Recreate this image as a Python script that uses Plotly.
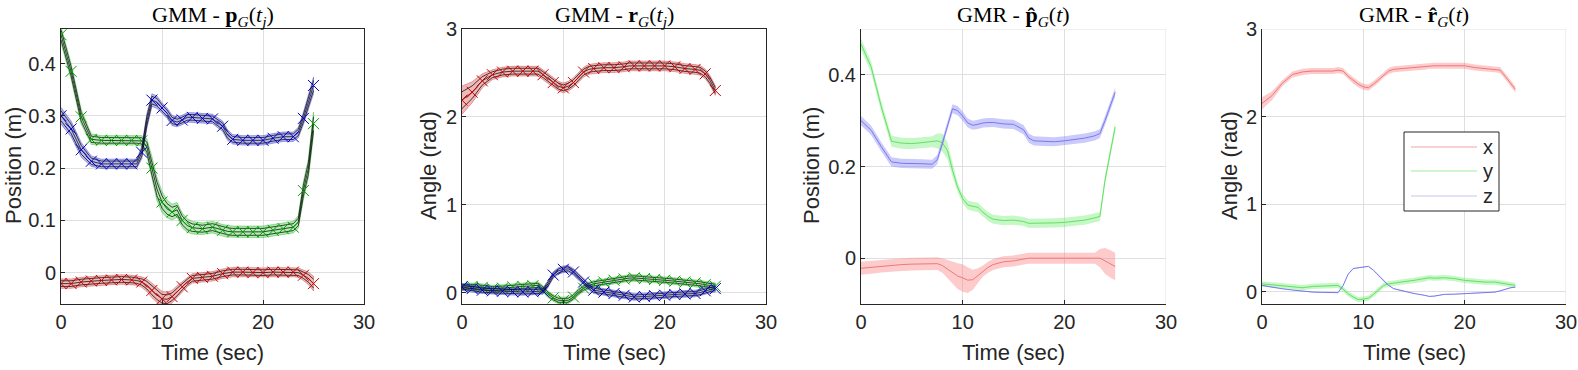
import plotly.graph_objects as go

# 공통 시간축 (sec)
t = [0, 1, 2, 3, 4, 5, 6, 7, 7.5, 8, 8.5, 9, 9.5, 10, 10.5, 11, 11.5, 12, 12.5, 13,
     14, 15, 16, 16.5, 17, 18, 19, 20, 21, 22, 23, 23.5, 24, 24.5, 25]

# GMM - 위치 (demo 평균, demo 퍼짐)
gmm_pos_x = [-0.021, -0.021, -0.018, -0.016, -0.015, -0.014, -0.013, -0.014, -0.015, -0.018, -0.024, -0.034,
             -0.043, -0.05, -0.051, -0.046, -0.037, -0.027, -0.018, -0.011, -0.009, -0.007, -0.002, -0.001,
             0.001, 0.001, 0.0, 0.0, 0.001, 0.001, 0.001, 0.0, -0.005, -0.011, -0.021]
gmm_pos_y = [0.455, 0.385, 0.298, 0.255, 0.253, 0.253, 0.253, 0.253, 0.253, 0.252, 0.24, 0.2, 0.16, 0.135,
             0.122, 0.116, 0.12, 0.1, 0.09, 0.086, 0.084, 0.087, 0.081, 0.079, 0.078, 0.078, 0.078, 0.078,
             0.081, 0.084, 0.087, 0.097, 0.157, 0.2, 0.285]
gmm_pos_z = [0.3, 0.275, 0.235, 0.213, 0.208, 0.208, 0.208, 0.208, 0.208, 0.23, 0.29, 0.33, 0.326, 0.315,
             0.305, 0.291, 0.288, 0.292, 0.297, 0.297, 0.295, 0.294, 0.28, 0.263, 0.255, 0.253, 0.253, 0.253,
             0.257, 0.26, 0.26, 0.268, 0.295, 0.325, 0.358]
gmm_pos_sx = [0.009] * 9 + [0.01, 0.012, 0.014, 0.014, 0.014, 0.014, 0.012, 0.012, 0.01] + [0.009] * 14 + [0.01, 0.012, 0.014]
gmm_pos_sy = [0.016, 0.015, 0.014, 0.01, 0.009, 0.009, 0.009, 0.009, 0.009, 0.01, 0.016, 0.022, 0.022, 0.02,
              0.017, 0.015, 0.014, 0.014, 0.013, 0.012, 0.011, 0.011, 0.011, 0.011, 0.011, 0.011, 0.011, 0.011,
              0.011, 0.011, 0.011, 0.012, 0.017, 0.018, 0.022]
gmm_pos_sz = [0.016, 0.015, 0.014, 0.01, 0.009, 0.009, 0.009, 0.009, 0.009, 0.012, 0.014, 0.012, 0.012, 0.01,
              0.01, 0.01, 0.009, 0.009, 0.009, 0.009, 0.009, 0.009, 0.01, 0.01, 0.009, 0.009, 0.009, 0.009,
              0.009, 0.009, 0.009, 0.01, 0.012, 0.014, 0.016]

# GMM - 회전
gmm_rot_x = [2.19, 2.28, 2.41, 2.48, 2.51, 2.52, 2.52, 2.52, 2.52, 2.48, 2.44, 2.39, 2.35, 2.33, 2.35, 2.39,
             2.45, 2.51, 2.54, 2.55, 2.56, 2.56, 2.57, 2.58, 2.58, 2.58, 2.58, 2.58, 2.57, 2.55, 2.54, 2.53,
             2.49, 2.41, 2.3]
gmm_rot_y = [0.064, 0.07, 0.06, 0.045, 0.05, 0.064, 0.07, 0.078, 0.083, 0.04, -0.02, -0.06, -0.087, -0.09,
             -0.087, -0.05, 0.01, 0.05, 0.08, 0.1, 0.12, 0.14, 0.155, 0.165, 0.167, 0.16, 0.15, 0.14, 0.13,
             0.12, 0.11, 0.1, 0.09, 0.08, 0.072]
gmm_rot_z = [0.064, 0.045, 0.027, 0.02, 0.015, 0.01, 0.008, 0.01, 0.015, 0.019, 0.1, 0.2, 0.246, 0.265, 0.27,
             0.235, 0.18, 0.12, 0.07, 0.027, 0.005, -0.011, -0.03, -0.04, -0.05, -0.045, -0.035, -0.03,
             -0.022, -0.015, -0.011, 0.0, 0.02, 0.035, 0.045]
gmm_rot_sx = [0.16, 0.12, 0.08] + [0.055] * 32
gmm_rot_sy = [0.038] * 35
gmm_rot_sz = [0.038] * 35

# GMR - 위치 (평균, 표준편차 폭)
gmr_pos_x = [-0.022, -0.02, -0.017, -0.015, -0.014, -0.013, -0.013, -0.012, -0.012, -0.016, -0.024, -0.032,
             -0.039, -0.043, -0.048, -0.047, -0.038, -0.028, -0.02, -0.014, -0.008, -0.006, -0.002, 0.0, 0.0,
             0.0, 0.0, 0.0, 0.0, 0.0, 0.0, 0.0, -0.006, -0.012, -0.018]
gmr_pos_y = [0.467, 0.417, 0.33, 0.255, 0.251, 0.25, 0.252, 0.254, 0.256, 0.252, 0.235, 0.192, 0.155, 0.13,
             0.116, 0.113, 0.111, 0.1, 0.091, 0.085, 0.082, 0.083, 0.08, 0.076, 0.076, 0.076, 0.077, 0.078,
             0.081, 0.083, 0.088, 0.091, 0.17, 0.23, 0.286]
gmr_pos_z = [0.3, 0.279, 0.243, 0.21, 0.207, 0.207, 0.206, 0.205, 0.215, 0.25, 0.29, 0.326, 0.322, 0.31, 0.295,
             0.29, 0.292, 0.295, 0.296, 0.296, 0.293, 0.292, 0.28, 0.262, 0.256, 0.255, 0.254, 0.256, 0.259,
             0.262, 0.267, 0.272, 0.3, 0.33, 0.362]
gmr_pos_sx = [0.014] * 9 + [0.016, 0.02, 0.024, 0.028, 0.03, 0.028, 0.022, 0.016] + [0.012] * 14 + [0.02, 0.028, 0.03, 0.03]
gmr_pos_sy = [0.012] * 8 + [0.016, 0.02, 0.018, 0.014] + [0.01] * 23
gmr_pos_sz = [0.01] * 35

# GMR - 회전
gmr_rot_x = [2.15, 2.24, 2.38, 2.48, 2.51, 2.52, 2.52, 2.52, 2.53, 2.52, 2.46, 2.41, 2.37, 2.34, 2.33, 2.37,
             2.42, 2.48, 2.52, 2.54, 2.55, 2.56, 2.57, 2.58, 2.58, 2.58, 2.58, 2.58, 2.56, 2.55, 2.54, 2.53,
             2.46, 2.39, 2.31]
gmr_rot_y = [0.09, 0.08, 0.072, 0.06, 0.046, 0.06, 0.065, 0.07, 0.072, 0.03, -0.023, -0.06, -0.09, -0.085,
             -0.072, -0.03, 0.02, 0.072, 0.09, 0.1, 0.115, 0.13, 0.145, 0.16, 0.155, 0.16, 0.15, 0.13, 0.12,
             0.11, 0.11, 0.1, 0.09, 0.08, 0.072]
gmr_rot_z = [0.072, 0.05, 0.034, 0.02, 0.008, -0.004, -0.007, -0.01, -0.011, 0.07, 0.2, 0.265, 0.275, 0.28,
             0.29, 0.245, 0.187, 0.12, 0.072, 0.035, 0.005, -0.02, -0.04, -0.053, -0.05, -0.03, -0.028,
             -0.023, -0.015, -0.01, -0.004, 0.01, 0.03, 0.045, 0.053]
gmr_rot_sx = [0.07, 0.05] + [0.035] * 33
gmr_rot_sy = [0.03] * 35
gmr_rot_sz = [0.004] * 35

titles = ['GMM - <b>p</b><sub><i>G</i></sub>(<i>t<sub>j</sub></i>)',
          'GMM - <b>r</b><sub><i>G</i></sub>(<i>t<sub>j</sub></i>)',
          'GMR - <b>p\u0302</b><sub><i>G</i></sub>(<i>t</i>)',
          'GMR - <b>r\u0302</b><sub><i>G</i></sub>(<i>t</i>)']
ylabels = ['Position (m)', 'Angle (rad)', 'Position (m)', 'Angle (rad)']
legend_names = ['x', 'y', 'z']

W, H = 1578, 370
# 패널 위치 (픽셀)
px_left = [61, 462, 861, 1262]
px_right = [364, 766, 1166, 1566]
ylab_x = [13, 428, 811, 1229]
yranges = [[-0.06, 0.466], [-0.13, 3], [-0.1, 0.5], [-0.14, 3]]
ytick_vals = [[0, 0.1, 0.2, 0.3, 0.4], [0, 1, 2, 3], [0, 0.2, 0.4], [0, 1, 2, 3]]

# 색상
gmm_fill = ['rgba(215,70,70,0.38)', 'rgba(60,200,60,0.38)', 'rgba(70,70,215,0.38)']
gmm_edge = ['rgba(200,60,60,0.55)', 'rgba(40,180,40,0.55)', 'rgba(60,60,200,0.55)']
gmm_mark = ['rgb(200,0,0)', 'rgb(0,160,0)', 'rgb(0,0,200)']
gmr_fill = ['rgba(250,130,130,0.42)', 'rgba(120,235,120,0.42)', 'rgba(130,130,245,0.42)']
gmr_line = ['rgb(240,120,120)', 'rgb(100,225,100)', 'rgb(120,120,240)']

panels = [
    ('gmm', [gmm_pos_x, gmm_pos_y, gmm_pos_z], [gmm_pos_sx, gmm_pos_sy, gmm_pos_sz]),
    ('gmm', [gmm_rot_x, gmm_rot_y, gmm_rot_z], [gmm_rot_sx, gmm_rot_sy, gmm_rot_sz]),
    ('gmr', [gmr_pos_x, gmr_pos_y, gmr_pos_z], [gmr_pos_sx, gmr_pos_sy, gmr_pos_sz]),
    ('gmr', [gmr_rot_x, gmr_rot_y, gmr_rot_z], [gmr_rot_sx, gmr_rot_sy, gmr_rot_sz]),
]

fig = go.Figure()
annotations = []
shapes = []
tick_font = dict(family='Liberation Sans, Arial, sans-serif', size=20, color='#262626')
label_font = dict(family='Liberation Sans, Arial, sans-serif', size=22, color='#262626')

for i, (kind, series, spreads) in enumerate(panels):
    xa = 'x' if i == 0 else 'x%d' % (i + 1)
    ya = 'y' if i == 0 else 'y%d' % (i + 1)
    for k in range(3):
        m = series[k]
        s = spreads[k]
        upper = [a + b for a, b in zip(m, s)]
        lower = [a - b for a, b in zip(m, s)]
        if kind == 'gmm':
            # 가우시안 영역
            fig.add_trace(go.Scatter(x=t + t[::-1], y=upper + lower[::-1], fill='toself',
                                     fillcolor=gmm_fill[k], line=dict(color=gmm_edge[k], width=0.8),
                                     mode='lines', hoverinfo='skip', showlegend=False, xaxis=xa, yaxis=ya))
            # 데모 궤적 (검정) - 영역 안쪽
            d_up = [a + 0.6 * b for a, b in zip(m, s)]
            d_lo = [a - 0.6 * b for a, b in zip(m, s)]
            for d in [d_up, m, d_lo]:
                fig.add_trace(go.Scatter(x=t, y=d, mode='lines', line=dict(color='rgba(0,0,0,0.8)', width=0.9),
                                         showlegend=False, xaxis=xa, yaxis=ya))
            # 가우시안 중심
            mt = [tt for tt in t if tt == int(tt)]
            mv = [v for tt, v in zip(t, m) if tt == int(tt)]
            fig.add_trace(go.Scatter(x=mt, y=mv, mode='markers',
                                     marker=dict(symbol='x-thin', size=11, line=dict(color=gmm_mark[k], width=1)),
                                     showlegend=False, xaxis=xa, yaxis=ya))
        else:
            fig.add_trace(go.Scatter(x=t + t[::-1], y=upper + lower[::-1], fill='toself',
                                     fillcolor=gmr_fill[k], line=dict(width=0),
                                     mode='lines', hoverinfo='skip', showlegend=False, xaxis=xa, yaxis=ya))
            fig.add_trace(go.Scatter(x=t, y=m, mode='lines', line=dict(color=gmr_line[k], width=1),
                                     name=legend_names[k], showlegend=False, xaxis=xa, yaxis=ya))

    boxed = kind == 'gmm'
    xkey = 'xaxis' if i == 0 else 'xaxis%d' % (i + 1)
    ykey = 'yaxis' if i == 0 else 'yaxis%d' % (i + 1)
    fig.update_layout(**{
        xkey: dict(domain=[px_left[i] / W, px_right[i] / W], anchor=ya, range=[0, 30], automargin=False,
                   tickvals=[0, 10, 20, 30], showgrid=True, gridcolor='#dfdfdf', gridwidth=1,
                   showline=True, linecolor='#262626', linewidth=1, mirror=boxed, ticks='inside',
                   ticklen=4, tickcolor='#262626', tickfont=tick_font, zeroline=False),
        ykey: dict(domain=[1 - 304 / H, 1 - 29 / H], anchor=xa, range=yranges[i], automargin=False,
                   tickvals=ytick_vals[i], showgrid=True, gridcolor='#dfdfdf', gridwidth=1,
                   showline=True, linecolor='#262626', linewidth=1, mirror=boxed, ticks='inside',
                   ticklen=4, tickcolor='#262626', tickfont=tick_font, zeroline=False),
    })
    if not boxed:
        # box off: 위/오른쪽 격자선
        shapes.append(dict(type='line', xref=xa, yref='paper', x0=30, x1=30, y0=1 - 304 / H, y1=1 - 29 / H,
                           line=dict(color='#dfdfdf', width=1), layer='below'))
        shapes.append(dict(type='line', xref='paper', yref=ya, x0=px_left[i] / W, x1=px_right[i] / W,
                           y0=yranges[i][1], y1=yranges[i][1], line=dict(color='#dfdfdf', width=1), layer='below'))

    cx = (px_left[i] + px_right[i]) / 2 / W
    annotations.append(dict(text=titles[i], x=cx, y=1, xref='paper', yref='paper', showarrow=False,
                            xanchor='center', yanchor='top',
                            font=dict(family='Liberation Serif, Times New Roman, serif', size=22, color='black')))
    annotations.append(dict(text='Time (sec)', x=cx, y=1 - 352 / H, xref='paper', yref='paper', showarrow=False,
                            xanchor='center', yanchor='middle', font=label_font))
    annotations.append(dict(text=ylabels[i], x=ylab_x[i] / W, y=1 - 166 / H, xref='paper', yref='paper',
                            showarrow=False, textangle=-90, xanchor='center', yanchor='middle', font=label_font))

# 범례 (4번째 패널 안)
shapes.append(dict(type='rect', xref='paper', yref='paper', x0=1404 / W, x1=1499 / W, y0=1 - 211 / H,
                   y1=1 - 132 / H, line=dict(color='#262626', width=1), fillcolor='white', layer='above'))
leg_y = [147, 171, 196]
leg_colors = ['rgb(240,165,165)', 'rgb(160,240,160)', 'rgb(200,200,240)']
for k in range(3):
    shapes.append(dict(type='line', xref='paper', yref='paper', x0=1411 / W, x1=1477 / W,
                       y0=1 - leg_y[k] / H, y1=1 - leg_y[k] / H, line=dict(color=leg_colors[k], width=1.2),
                       layer='above'))
    annotations.append(dict(text=legend_names[k], x=1481 / W, y=1 - leg_y[k] / H, xref='paper', yref='paper',
                            showarrow=False, xanchor='left', yanchor='middle', font=tick_font))

fig.update_layout(width=W, height=H, margin=dict(l=0, r=0, t=0, b=0, autoexpand=False), plot_bgcolor='white',
                  paper_bgcolor='white', showlegend=False, annotations=annotations, shapes=shapes)

# body 기본 여백 제거, 모드바 숨김
fig.write_html("out.html", config={'displayModeBar': False},
               post_script="document.body.style.margin='0px';")
